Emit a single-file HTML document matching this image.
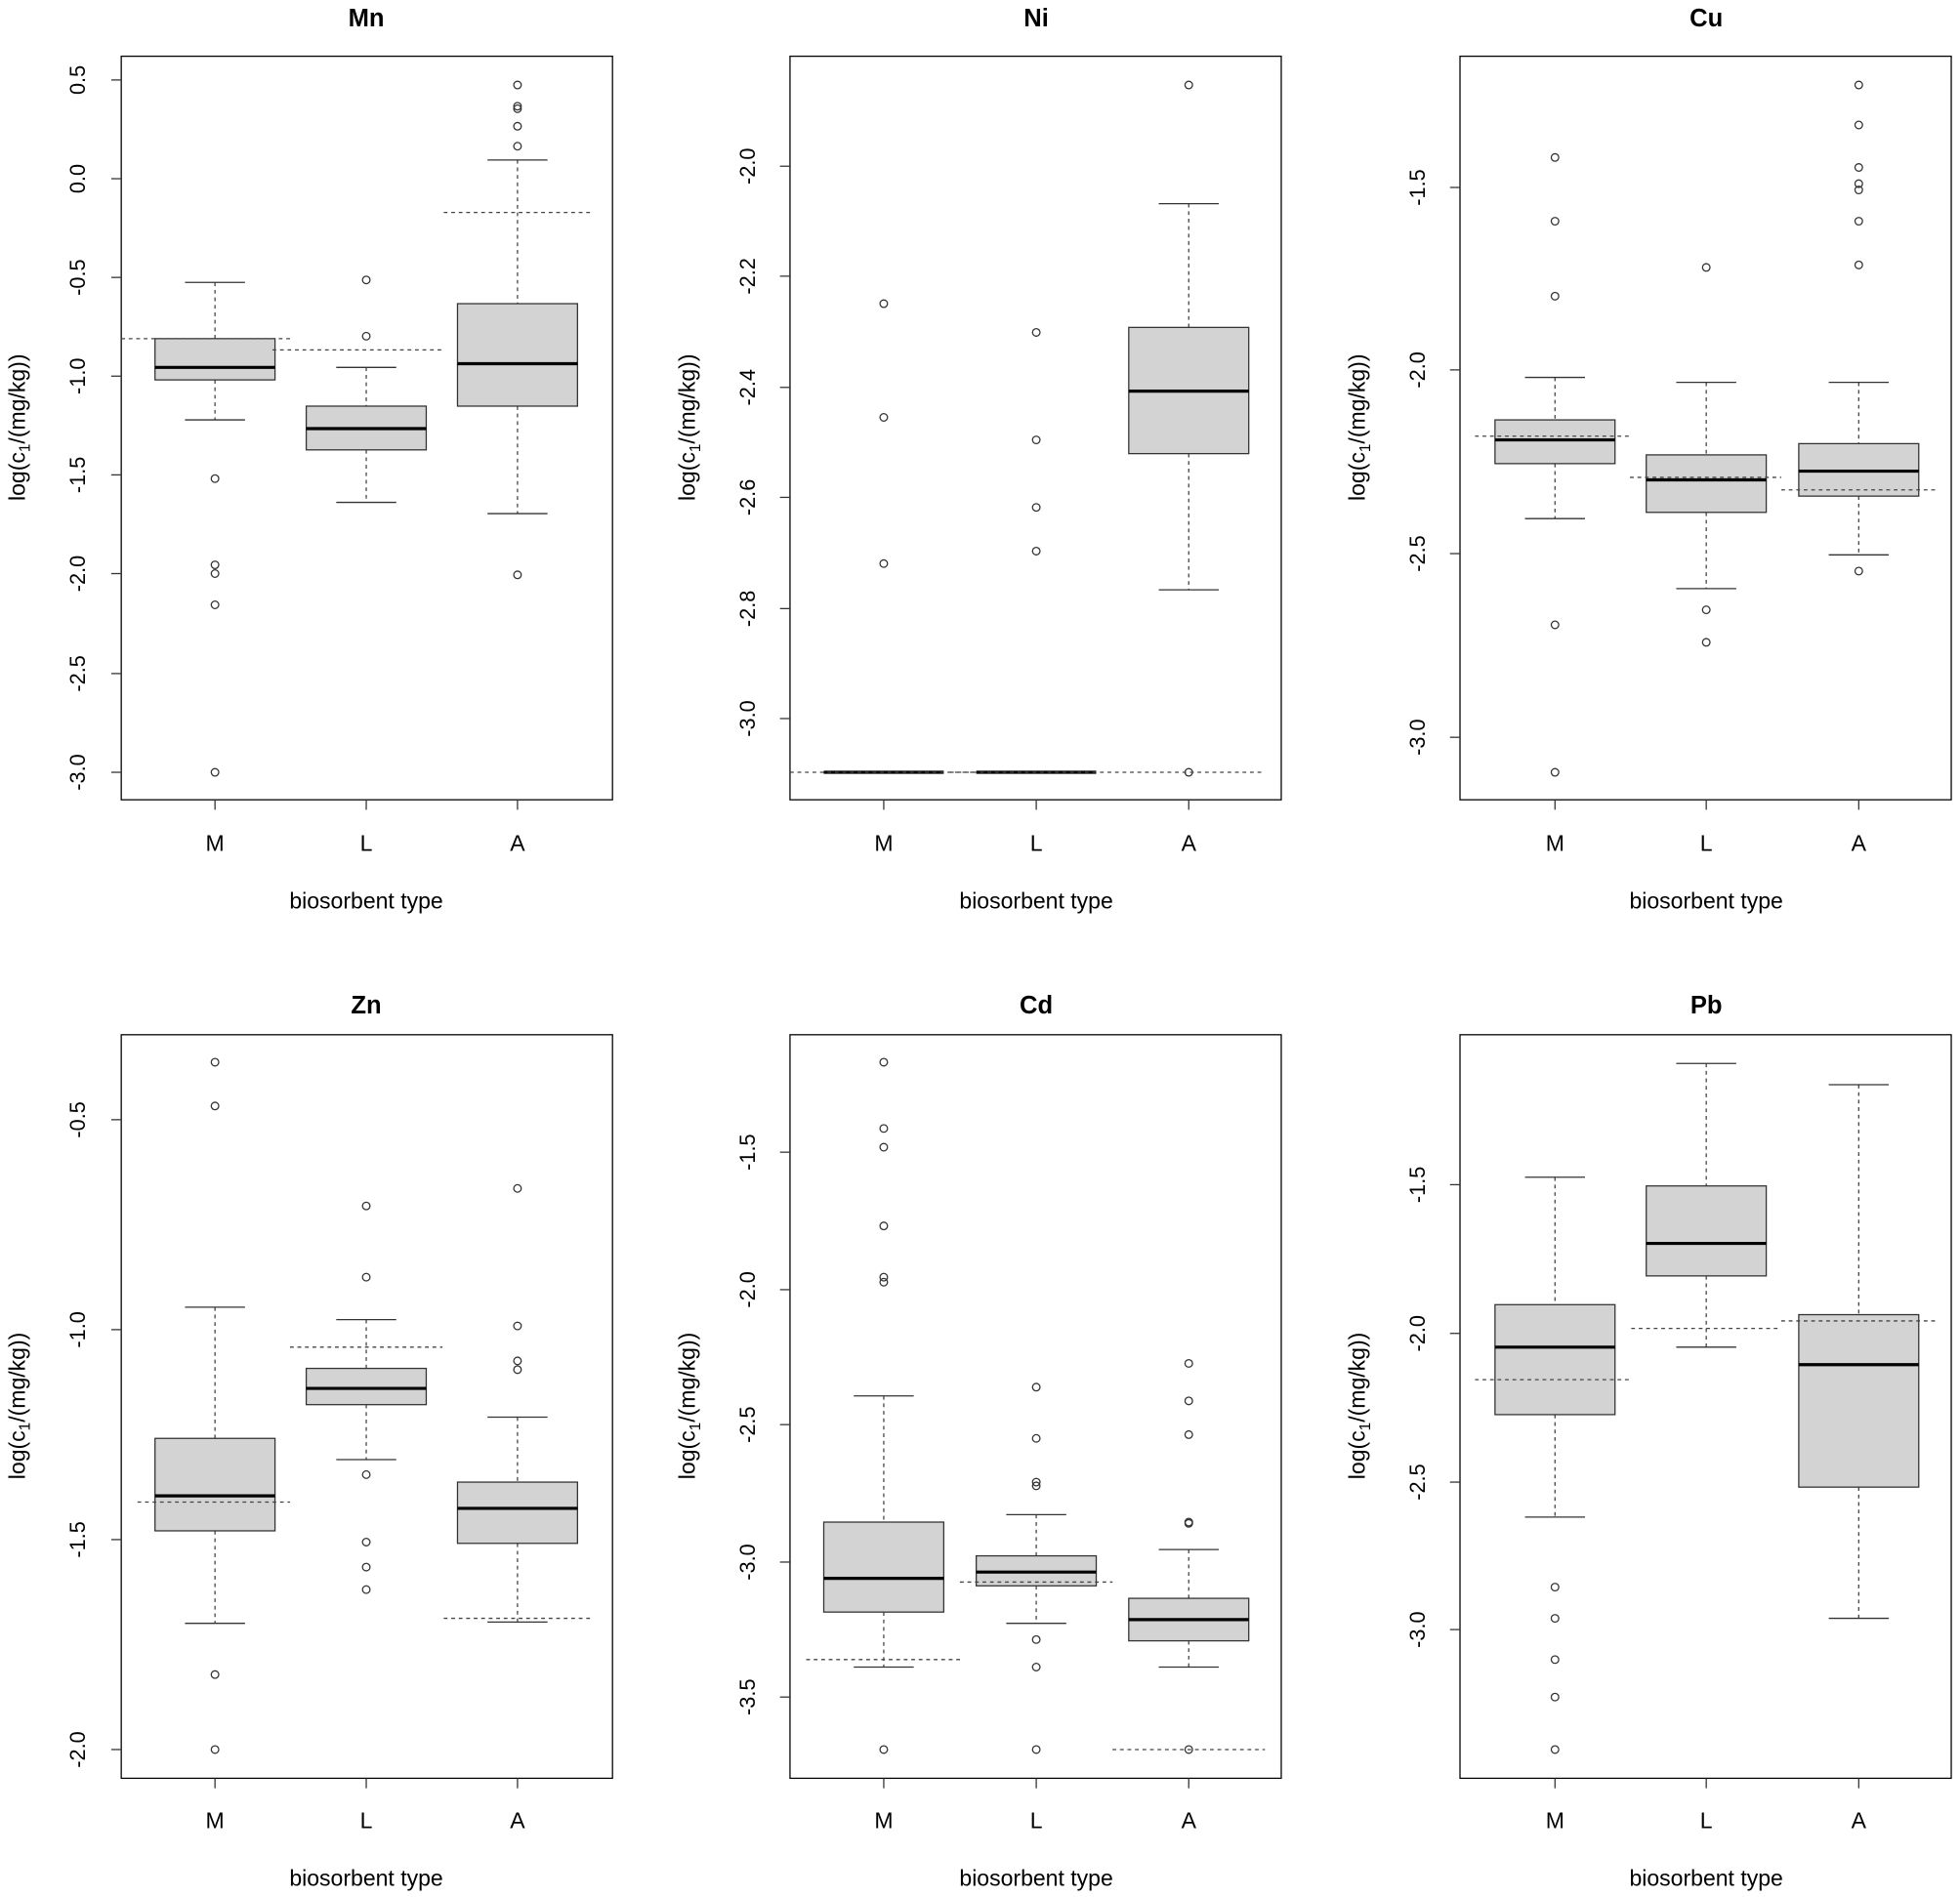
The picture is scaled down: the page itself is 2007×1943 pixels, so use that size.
<!DOCTYPE html>
<html><head><meta charset="utf-8"><style>
html,body{margin:0;padding:0;background:#fff}
svg{display:block}
text{font-family:"Liberation Sans",Arial,sans-serif;fill:#000}
.t{font-size:20px;font-weight:bold}
.l{font-size:18px}
.k{font-size:17px}
</style></head><body>
<svg id="s" width="2007" height="1943" viewBox="0 0 1568 1518" xmlns="http://www.w3.org/2000/svg">
<g id="g"></g>
<!-- titles -->
<text class="t" x="293" y="21" text-anchor="middle">Mn</text>
<text class="t" x="829" y="21" text-anchor="middle">Ni</text>
<text class="t" x="1365" y="21" text-anchor="middle">Cu</text>
<text class="t" x="293" y="811" text-anchor="middle">Zn</text>
<text class="t" x="829" y="811" text-anchor="middle">Cd</text>
<text class="t" x="1365" y="811" text-anchor="middle">Pb</text>
<!-- x labels -->
<g class="l" text-anchor="middle">
<text x="172" y="681">M</text><text x="293" y="681">L</text><text x="414" y="681">A</text>
<text x="707" y="681">M</text><text x="829" y="681">L</text><text x="951" y="681">A</text>
<text x="1244" y="681">M</text><text x="1365" y="681">L</text><text x="1487" y="681">A</text>
<text x="172" y="1463">M</text><text x="293" y="1463">L</text><text x="414" y="1463">A</text>
<text x="707" y="1463">M</text><text x="829" y="1463">L</text><text x="951" y="1463">A</text>
<text x="1244" y="1463">M</text><text x="1365" y="1463">L</text><text x="1487" y="1463">A</text>
<text x="293" y="727">biosorbent type</text><text x="829" y="727">biosorbent type</text><text x="1365" y="727">biosorbent type</text>
<text x="293" y="1509">biosorbent type</text><text x="829" y="1509">biosorbent type</text><text x="1365" y="1509">biosorbent type</text>
</g>
<!-- y titles -->
<g class="l" text-anchor="middle">
<text transform="translate(20,342) rotate(-90)">log(c<tspan font-size="12" dy="4">1</tspan><tspan dy="-4">/(mg/kg))</tspan></text>
<text transform="translate(556,342) rotate(-90)">log(c<tspan font-size="12" dy="4">1</tspan><tspan dy="-4">/(mg/kg))</tspan></text>
<text transform="translate(1092,342) rotate(-90)">log(c<tspan font-size="12" dy="4">1</tspan><tspan dy="-4">/(mg/kg))</tspan></text>
<text transform="translate(20,1125) rotate(-90)">log(c<tspan font-size="12" dy="4">1</tspan><tspan dy="-4">/(mg/kg))</tspan></text>
<text transform="translate(556,1125) rotate(-90)">log(c<tspan font-size="12" dy="4">1</tspan><tspan dy="-4">/(mg/kg))</tspan></text>
<text transform="translate(1092,1125) rotate(-90)">log(c<tspan font-size="12" dy="4">1</tspan><tspan dy="-4">/(mg/kg))</tspan></text>
</g>
<!-- tick labels -->
<g class="k" text-anchor="middle">
<text transform="translate(68,64) rotate(-90)">0.5</text>
<text transform="translate(68,143) rotate(-90)">0.0</text>
<text transform="translate(68,222) rotate(-90)">-0.5</text>
<text transform="translate(68,301) rotate(-90)">-1.0</text>
<text transform="translate(68,380) rotate(-90)">-1.5</text>
<text transform="translate(68,459) rotate(-90)">-2.0</text>
<text transform="translate(68,539) rotate(-90)">-2.5</text>
<text transform="translate(68,618) rotate(-90)">-3.0</text>
<text transform="translate(604,133) rotate(-90)">-2.0</text>
<text transform="translate(604,221) rotate(-90)">-2.2</text>
<text transform="translate(604,310) rotate(-90)">-2.4</text>
<text transform="translate(604,398) rotate(-90)">-2.6</text>
<text transform="translate(604,487) rotate(-90)">-2.8</text>
<text transform="translate(604,575) rotate(-90)">-3.0</text>
<text transform="translate(1140,150) rotate(-90)">-1.5</text>
<text transform="translate(1140,296) rotate(-90)">-2.0</text>
<text transform="translate(1140,443) rotate(-90)">-2.5</text>
<text transform="translate(1140,590) rotate(-90)">-3.0</text>
<text transform="translate(68,896) rotate(-90)">-0.5</text>
<text transform="translate(68,1064) rotate(-90)">-1.0</text>
<text transform="translate(68,1232) rotate(-90)">-1.5</text>
<text transform="translate(68,1400) rotate(-90)">-2.0</text>
<text transform="translate(604,922) rotate(-90)">-1.5</text>
<text transform="translate(604,1032) rotate(-90)">-2.0</text>
<text transform="translate(604,1140) rotate(-90)">-2.5</text>
<text transform="translate(604,1250) rotate(-90)">-3.0</text>
<text transform="translate(604,1358) rotate(-90)">-3.5</text>
<text transform="translate(1140,948) rotate(-90)">-1.5</text>
<text transform="translate(1140,1067) rotate(-90)">-2.0</text>
<text transform="translate(1140,1186) rotate(-90)">-2.5</text>
<text transform="translate(1140,1304) rotate(-90)">-3.0</text>
</g>
</svg>
<script>
var g=document.getElementById('g'),h='';
function L(x1,y1,x2,y2,c,w,d){h+='<line x1="'+x1+'" y1="'+y1+'" x2="'+x2+'" y2="'+y2+'" stroke="'+(c||'#000')+'" stroke-width="'+(w||1)+'"'+(d?' stroke-dasharray="'+d+'"':'')+'/>';}
var panels=[
 {x0:97,y0:45,xs:[172,293,414],ticks:[64,143,222,301,380,459,539,618],b:[
  [226,271,294,304,336,[383,452,459,484,618],[271,97,232]],
  [294,325,343,360,402,[224,269],[280,218,354]],
  [128,243,291,325,411,[68,85,87,101,117,460],[170,355,475]]]},
 {x0:632,y0:45,xs:[707,829,951],ticks:[133,221,310,398,487,575],b:[
  [618,618,618,618,618,[243,334,451],[618,632,780]],
  [618,618,618,618,618,[266,352,406,441],[618,760,880]],
  [163,262,313,363,472,[68,618],[618,880,1012]]]},
 {x0:1168,y0:45,xs:[1244,1365,1487],ticks:[150,296,443,590],b:[
  [302,336,352,371,415,[126,177,237,500,618],[349,1180,1304]],
  [306,364,384,410,471,[214,488,514],[382,1304,1425]],
  [306,355,377,397,444,[68,100,134,147,152,177,212,457],[392,1425,1548]]]},
 {x0:97,y0:828,xs:[172,293,414],ticks:[896,1064,1232,1400],b:[
  [1046,1151,1197,1225,1299,[850,885,1340,1400],[1202,110,232]],
  [1056,1095,1111,1124,1168,[965,1022,1180,1234,1254,1272],[1078,232,354]],
  [1134,1186,1207,1235,1298,[951,1061,1089,1096],[1295,355,475]]]},
 {x0:632,y0:828,xs:[707,829,951],ticks:[922,1032,1140,1250,1358],b:[
  [1117,1218,1263,1290,1334,[850,903,918,981,1022,1026,1400],[1328,645,768]],
  [1212,1245,1258,1269,1299,[1110,1151,1186,1189,1312,1334,1400],[1266,768,890]],
  [1240,1279,1296,1313,1334,[1091,1121,1148,1218,1219,1400],[1400,890,1012]]]},
 {x0:1168,y0:828,xs:[1244,1365,1487],ticks:[948,1067,1186,1304],b:[
  [942,1044,1078,1132,1214,[1270,1295,1328,1358,1400],[1104,1180,1305]],
  [851,949,995,1021,1078,[],[1063,1305,1425]],
  [868,1052,1092,1190,1295,[],[1057,1425,1548]]]}
];
panels.forEach(function(p){
 h+='<rect x="'+p.x0+'" y="'+p.y0+'" width="393" height="595" fill="none" stroke="#000" stroke-width="1"/>';
 p.ticks.forEach(function(t){L(p.x0-8,t,p.x0,t,'#333');});
 p.xs.forEach(function(x){L(x,p.y0+595,x,p.y0+603,'#333');});
 p.b.forEach(function(b,i){
  var x=p.xs[i];
  L(x,b[0],x,b[1],'#444',1,'3,3');L(x,b[3],x,b[4],'#444',1,'3,3');
  L(x-24,b[0],x+24,b[0],'#333');L(x-24,b[4],x+24,b[4],'#333');
  if(b[3]>b[1])h+='<rect x="'+(x-48)+'" y="'+b[1]+'" width="96" height="'+(b[3]-b[1])+'" fill="#d3d3d3" stroke="#333" stroke-width="1"/>';
  L(x-48,b[2],x+48,b[2],'#000',2.5);
  b[5].forEach(function(o){h+='<circle cx="'+x+'" cy="'+o+'" r="3" fill="none" stroke="#333" stroke-width="1"/>';});
  var d=b[6];L(d[1],d[0],d[2],d[0],'#444',1,'3,3');
 });
});
g.innerHTML=h;
</script>
</body></html>
